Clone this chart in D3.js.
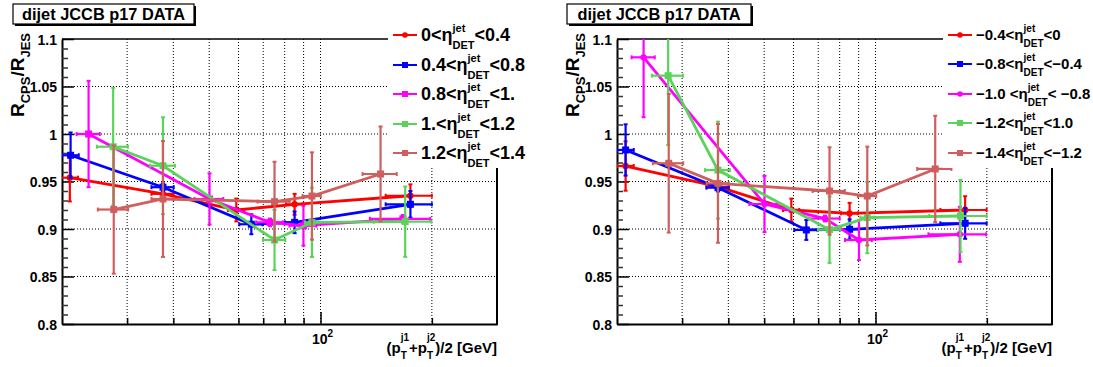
<!DOCTYPE html>
<html><head><meta charset="utf-8">
<script src="https://cdn.jsdelivr.net/npm/d3@7"></script>
<style>
body{margin:0;background:#fff}
text{font-family:"Liberation Sans",Arial,Helvetica,sans-serif;font-weight:bold;fill:#000;white-space:pre}
</style>
</head><body>
<svg id="c" width="1093" height="367"></svg>
<script>
// ---------------- data ----------------
const titleText = "dijet JCCB p17 DATA";
const xTicks = [30, 40, 50, 60, 70, 80, 90, 100, 200];
const xMajor = [100];
const yMajor = [0.8, 0.85, 0.9, 0.95, 1.0, 1.05, 1.1];
const yTickLabels = ["0.8", "0.85", "0.9", "0.95", "1", "1.05", "1.1"];
const yGrid = [0.85, 0.9, 0.95, 1.0, 1.05];
const seriesColors = ["#ff0000", "#0000ff", "#ff00ff", "#5bd35b", "#cf5e5e"];

// Left panel (positive eta)
const leftLegendPre  = ["0<η", "0.4<η", "0.8<η", "1.<η", "1.2<η"];
const leftLegendPost = ["<0.4", "<0.8", "<1.", "<1.2", "<1.4"];
const leftMarkers = ["circle", "square", "square", "square", "square"];

const L_red_x  = [21.0, 37.5, 59.2, 85.1, 175];
const L_red_y  = [0.954, 0.937, 0.920, 0.926, 0.935];
const L_red_ey = [0.025, 0.004, 0.012, 0.011, 0.012];
const L_red_ex = [1.1, 2.6, 3.0, 4.5, 25];

const L_blue_x  = [21.1, 37.5, 65.0, 85.1, 175];
const L_blue_y  = [0.9776, 0.944, 0.905, 0.907, 0.926];
const L_blue_ey = [0.024, 0.004, 0.0105, 0.0114, 0.014];
const L_blue_ex = [1.1, 2.6, 4.7, 5.0, 25];

const L_mag_x  = [23.6, 50.1, 73, 89.9, 167];
const L_mag_y  = [1.0, 0.9316, 0.907, 0.9035, 0.9107];
const L_mag_ey = [0.056, 0.027, 0.004, 0.021, 0.004];
const L_mag_ex = [1.7, 4.5, 6, 7.5, 31];

const L_green_x  = [27.5, 37.5, 75.1, 94.8, 169.4];
const L_green_y  = [0.9866, 0.9666, 0.8884, 0.907, 0.9077];
const L_green_ey = [0.062, 0.051, 0.0316, 0.0365, 0.037];
const L_green_ex = [2.65, 2.9, 5.2, 4.0, 30];

const L_brown_x  = [27.6, 37.5, 75.1, 94.8, 145.3];
const L_brown_y  = [0.9205, 0.9316, 0.9288, 0.9347, 0.9579];
const L_brown_ey = [0.0675, 0.061, 0.042, 0.046, 0.05];
const L_brown_ex = [2.6, 2.6, 7.5, 5.4, 15.4];

// Right panel (negative eta)
const rightLegendPre  = ["−0.4<η", "−0.8<η", "−1.0 <η", "−1.2<η", "−1.4<η"];
const rightLegendPost = ["<0", "<−0.4", "< −0.8", "<1.0", "<−1.2"];
const rightMarkers = ["circle", "square", "circle", "square", "square"];

const R_red_x  = [21.1, 37.5, 59.2, 85.1, 174.7];
const R_red_y  = [0.9663, 0.9445, 0.92, 0.9165, 0.92];
const R_red_ey = [0.026, 0.004, 0.012, 0.011, 0.0145];
const R_red_ex = [1.1, 2.6, 3.0, 4.5, 25];

const R_blue_x  = [21.1, 37.5, 65.0, 85.1, 174.7];
const R_blue_y  = [0.9832, 0.9435, 0.899, 0.8997, 0.906];
const R_blue_ey = [0.027, 0.004, 0.0105, 0.0105, 0.0163];
const R_blue_ex = [1.1, 2.6, 4.7, 5.0, 25];

const R_mag_x  = [23.6, 50.1, 73, 90.2, 169];
const R_mag_y  = [1.0807, 0.9263, 0.911, 0.8884, 0.8944];
const R_mag_ey = [0.063, 0.0296, 0.003, 0.021, 0.029];
const R_mag_ex = [1.7, 4.5, 7, 7.5, 30];

const R_green_x  = [27.5, 37.5, 75.1, 95.0, 169.7];
const R_green_y  = [1.0614, 0.962, 0.8993, 0.912, 0.9137];
const R_green_ey = [0.073, 0.051, 0.035, 0.0375, 0.038];
const R_green_ex = [2.65, 2.9, 5.2, 4.0, 30];

const R_brown_x  = [27.6, 37.5, 75.1, 95.0, 145];
const R_brown_y  = [0.9692, 0.948, 0.94, 0.9347, 0.9632];
const R_brown_ey = [0.073, 0.0625, 0.046, 0.052, 0.056];
const R_brown_ex = [2.6, 2.6, 7.5, 5.4, 15.4];

// ---------------- build ----------------
function mk(xs, ys, eys, exs) {
  return xs.map((x, i) => ({x, y: ys[i], ey: eys[i], ex: exs[i]}));
}
const leftSeries = [
  mk(L_red_x, L_red_y, L_red_ey, L_red_ex),
  mk(L_blue_x, L_blue_y, L_blue_ey, L_blue_ex),
  mk(L_mag_x, L_mag_y, L_mag_ey, L_mag_ex),
  mk(L_green_x, L_green_y, L_green_ey, L_green_ex),
  mk(L_brown_x, L_brown_y, L_brown_ey, L_brown_ex)
];
const rightSeries = [
  mk(R_red_x, R_red_y, R_red_ey, R_red_ex),
  mk(R_blue_x, R_blue_y, R_blue_ey, R_blue_ex),
  mk(R_mag_x, R_mag_y, R_mag_ey, R_mag_ex),
  mk(R_green_x, R_green_y, R_green_ey, R_green_ex),
  mk(R_brown_x, R_brown_y, R_brown_ey, R_brown_ex)
];

const svg = d3.select("#c");

function rich(parent, segs, o) {
  const g = parent.append("g");
  let cx = 0;
  segs.forEach(s => {
    if (s.t !== undefined) {
      const t = g.append("text").attr("x", cx).attr("y", 0).attr("font-size", o.fs).text(s.t);
      cx += t.node().getComputedTextLength();
    } else {
      let w = 0;
      if (s.sup) {
        const t = g.append("text").attr("x", cx).attr("y", o.supDy).attr("font-size", o.ss).text(s.sup);
        w = Math.max(w, t.node().getComputedTextLength());
      }
      if (s.sub) {
        const t = g.append("text").attr("x", cx).attr("y", o.subDy).attr("font-size", o.ss).text(s.sub);
        w = Math.max(w, t.node().getComputedTextLength());
      }
      cx += w;
    }
  });
  return {g, w: cx};
}

const PW = 435, TOP = 39, BOT = 324;

function drawPanel(cfg, idx) {
  const x0 = cfg.x0;
  const x = d3.scaleLog().domain([20, 300]).range([x0, x0 + PW]);
  const y = d3.scaleLinear().domain([0.8, 1.1]).range([BOT, TOP]);
  const g = svg.append("g");

  // title box
  const tb = g.append("g");
  tb.append("rect").attr("x", cfg.tx + 2).attr("y", 6).attr("width", cfg.tw).attr("height", 20).attr("fill", "#000");
  tb.append("rect").attr("x", cfg.tx).attr("y", 4).attr("width", cfg.tw).attr("height", 20)
    .attr("fill", "#fff").attr("stroke", "#000").attr("stroke-width", 1.2);
  tb.append("text").attr("x", cfg.tx + cfg.tw / 2).attr("y", 19.5).attr("text-anchor", "middle")
    .attr("font-size", 16.5).attr("textLength", 163).attr("lengthAdjust", "spacingAndGlyphs").text(titleText);

  // grid
  g.append("g").selectAll("line").data(yGrid).join("line")
    .attr("x1", x0).attr("x2", x0 + PW).attr("y1", d => y(d)).attr("y2", d => y(d))
    .attr("stroke", "#000").attr("stroke-width", 1).attr("stroke-dasharray", "1,2");
  g.append("g").selectAll("line").data(xTicks).join("line")
    .attr("x1", d => x(d)).attr("x2", d => x(d)).attr("y1", TOP).attr("y2", BOT)
    .attr("stroke", "#000").attr("stroke-width", 1).attr("stroke-dasharray", "1,2");

  // axes
  const yMinor = d3.range(80, 111).map(v => v / 100).filter(v => !yMajor.some(m => Math.abs(m - v) < 1e-6));
  const ya = g.append("g").attr("transform", `translate(${x0},0)`)
    .call(d3.axisLeft(y).tickValues(yMajor).tickSizeInner(-12).tickSizeOuter(0).tickPadding(5)
      .tickFormat((d, i) => yTickLabels[i]));
  ya.selectAll("text").attr("font-size", 14).attr("font-family", null).attr("dy", "0.36em");
  ya.select(".domain").attr("stroke-width", 2);
  ya.selectAll(".tick line").attr("stroke-width", 1.5);
  const ym = g.append("g").attr("transform", `translate(${x0},0)`)
    .call(d3.axisLeft(y).tickValues(yMinor).tickSizeInner(-6).tickSizeOuter(0).tickFormat(""));
  ym.select(".domain").remove();
  ym.selectAll(".tick line").attr("stroke-width", 1.5).attr("stroke", "#333");

  const xa = g.append("g").attr("transform", `translate(0,${BOT})`)
    .call(d3.axisBottom(x).tickValues(xTicks).tickSizeInner(-6).tickSizeOuter(0).tickFormat(""));
  xa.selectAll(".tick line").attr("stroke-width", 1.5).filter(d => xMajor.includes(d)).attr("y2", -12);
  xa.select(".domain").attr("stroke-width", 2);

  // 10^2 label
  xMajor.forEach(v => {
    const r = rich(g, [{t: "10"}, {sup: "2"}], {fs: 14, ss: 10, supDy: -7, subDy: 5});
    r.g.attr("transform", `translate(${x(v) - r.w / 2 + 2},${344})`);
  });

  // frame top & right
  g.append("line").attr("x1", x0).attr("x2", x0 + PW).attr("y1", TOP).attr("y2", TOP)
    .attr("stroke", "#000").attr("stroke-width", 1.5);
  g.append("line").attr("x1", x0 + PW).attr("x2", x0 + PW).attr("y1", TOP).attr("y2", BOT + 1)
    .attr("stroke", "#000").attr("stroke-width", 2);

  // clip
  const cid = "clip" + idx;
  svg.append("clipPath").attr("id", cid).append("rect")
    .attr("x", x0).attr("y", TOP).attr("width", PW).attr("height", BOT - TOP);
  const dg = g.append("g").attr("clip-path", `url(#${cid})`);

  cfg.series.forEach((s, k) => {
    const col = seriesColors[k];
    const sg = dg.append("g");
    // errors
    s.forEach(p => {
      const cx = x(p.x), cy = y(p.y);
      const xl = x(Math.max(p.x - p.ex, 15)), xr = x(p.x + p.ex);
      const yt = y(p.y + p.ey), yb = y(p.y - p.ey);
      sg.append("line").attr("x1", xl).attr("x2", xr).attr("y1", cy).attr("y2", cy)
        .attr("stroke", col).attr("stroke-width", 2.2);
      sg.append("line").attr("x1", cx).attr("x2", cx).attr("y1", yt).attr("y2", yb)
        .attr("stroke", col).attr("stroke-width", 2.2);
      [yt, yb].forEach(yy => sg.append("line").attr("x1", cx - 2).attr("x2", cx + 2).attr("y1", yy).attr("y2", yy)
        .attr("stroke", col).attr("stroke-width", 2));
      [xl, xr].forEach(xx => sg.append("line").attr("x1", xx).attr("x2", xx).attr("y1", cy - 2).attr("y2", cy + 2)
        .attr("stroke", col).attr("stroke-width", 2));
    });
    // connecting line
    sg.append("path").datum(s)
      .attr("d", d3.line().x(p => x(p.x)).y(p => y(p.y)))
      .attr("fill", "none").attr("stroke", col).attr("stroke-width", 2.8);
    // markers
    s.forEach(p => {
      if (cfg.markers[k] === "circle") {
        sg.append("circle").attr("cx", x(p.x)).attr("cy", y(p.y)).attr("r", 3.2).attr("fill", col);
      } else {
        sg.append("rect").attr("x", x(p.x) - 3.5).attr("y", y(p.y) - 3.5).attr("width", 7).attr("height", 7).attr("fill", col);
      }
    });
  });

  // y title
  const yt = rich(g, [{t: "R"}, {sub: "CPS"}, {t: "/R"}, {sub: "JES"}], {fs: 19, ss: 13, supDy: -8, subDy: 6});
  yt.g.attr("transform", `translate(${cfg.ytx},33) rotate(-90) translate(${-yt.w},0)`);

  // x title
  const xt = rich(g, [{t: "(p"}, {sup: "j1", sub: "T"}, {t: "+p"}, {sup: "j2", sub: "T"}, {t: ")/2 [GeV]"}],
    {fs: 15, ss: 10, supDy: -12, subDy: 6});
  xt.g.attr("transform", `translate(${x0 + PW - xt.w},353)`);

  // legend
  const lg = g.append("g");
  lg.append("rect").attr("x", cfg.lx - 5).attr("y", 16).attr("width", cfg.lw).attr("height", 152).attr("fill", "#fff");
  cfg.pre.forEach((pre, k) => {
    const ly = cfg.ly[k];
    const col = seriesColors[k];
    lg.append("line").attr("x1", cfg.lx).attr("x2", cfg.lx + 24).attr("y1", ly).attr("y2", ly)
      .attr("stroke", col).attr("stroke-width", 2);
    if (cfg.markers[k] === "circle") {
      lg.append("circle").attr("cx", cfg.lx + 12).attr("cy", ly).attr("r", 2.8).attr("fill", col);
    } else {
      lg.append("rect").attr("x", cfg.lx + 9).attr("y", ly - 3).attr("width", 6).attr("height", 6).attr("fill", col);
    }
    const r = rich(lg, [{t: pre}, {sup: "jet", sub: "DET"}, {t: cfg.post[k]}], cfg.lfont);
    r.g.attr("transform", `translate(${cfg.lx + cfg.ltx},${ly + cfg.lbase})`);
  });
  g.append("line").attr("x1", x0 + PW).attr("x2", x0 + PW).attr("y1", 168).attr("y2", BOT + 1)
    .attr("stroke", "#000").attr("stroke-width", 2);
}

drawPanel({
  x0: 62, tx: 13, tw: 181, ytx: 24, series: leftSeries, markers: leftMarkers,
  pre: leftLegendPre, post: leftLegendPost, lx: 393, lw: 160, ly: [35, 65, 94, 124, 153],
  ltx: 28, lbase: 6, lfont: {fs: 18, ss: 11, supDy: -9, subDy: 8}
}, 0);
drawPanel({
  x0: 617, tx: 567, tw: 184, ytx: 579, series: rightSeries, markers: rightMarkers,
  pre: rightLegendPre, post: rightLegendPost, lx: 948, lw: 150, ly: [35, 64, 94, 123, 153],
  ltx: 28, lbase: 5, lfont: {fs: 15, ss: 10, supDy: -8, subDy: 7}
}, 1);
</script>
</body></html>
